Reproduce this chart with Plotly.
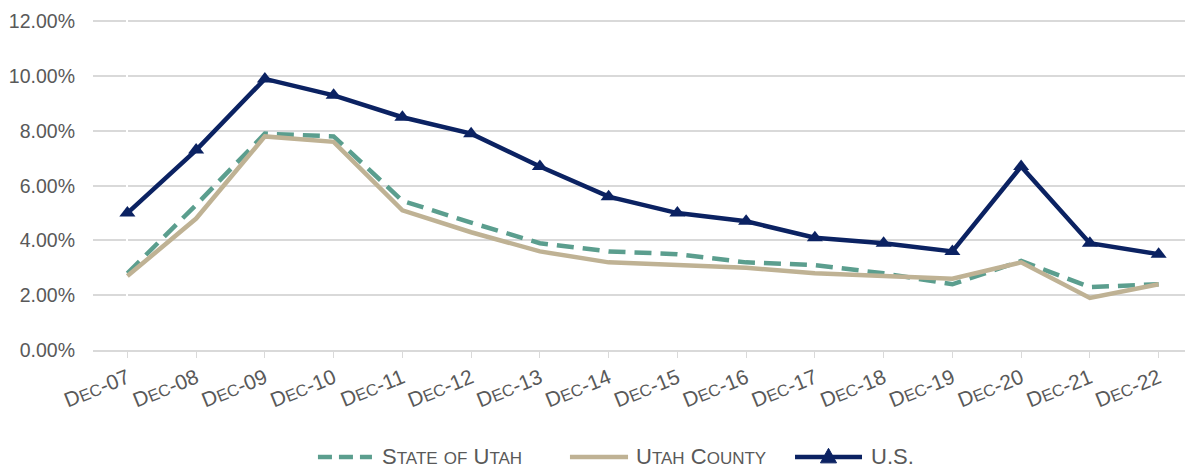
import plotly.graph_objects as go

categories = ["Dec-07", "Dec-08", "Dec-09", "Dec-10", "Dec-11", "Dec-12", "Dec-13", "Dec-14",
              "Dec-15", "Dec-16", "Dec-17", "Dec-18", "Dec-19", "Dec-20", "Dec-21", "Dec-22"]
state_utah = [2.8, 5.3, 7.9, 7.8, 5.45, 4.65, 3.9, 3.6, 3.5, 3.2, 3.1, 2.8, 2.4, 3.25, 2.3, 2.4]
utah_county = [2.7, 4.8, 7.8, 7.6, 5.1, 4.3, 3.6, 3.2, 3.1, 3.0, 2.8, 2.7, 2.6, 3.2, 1.9, 2.4]
us = [5.0, 7.3, 9.9, 9.3, 8.5, 7.9, 6.7, 5.6, 5.0, 4.7, 4.1, 3.9, 3.6, 6.7, 3.9, 3.5]
y_ticks = [0, 2, 4, 6, 8, 10, 12]
series_names = ["State of Utah", "Utah County", "U.S."]

def sc(text, small):
    # emulate small caps
    out = ""
    for ch in text:
        if ch.islower():
            out += f"<span style='font-size:{small}px'>{ch.upper()}</span>"
        else:
            out += ch
    return out

x_labels = [sc(c, 16.5) for c in categories]
x = list(range(len(categories)))

FONT = "Liberation Sans Narrow, Arial Narrow, Liberation Sans, sans-serif"
GRAY = "#595959"
C_STATE, C_COUNTY, C_US = "#5b9e8e", "#bfb294", "#0b2262"
STATE_DASH = "14px,7px"

fig = go.Figure()
fig.add_trace(go.Scatter(x=x, y=state_utah, mode="lines", name=series_names[0],
                         line=dict(color=C_STATE, width=4.5, dash="17px,9px")))
fig.add_trace(go.Scatter(x=x, y=utah_county, mode="lines", name=series_names[1],
                         line=dict(color=C_COUNTY, width=4.5)))
fig.add_trace(go.Scatter(x=x, y=us, mode="lines+markers", name=series_names[2],
                         line=dict(color=C_US, width=4.5),
                         marker=dict(symbol="triangle-up", size=14, color=C_US)))

# custom legend (paper coordinates below the plot)
LY = -0.324
legend_items = [
    (0.2045, 0.2536, 0.2610, C_STATE, STATE_DASH),
    (0.4336, 0.4864, 0.4920, C_COUNTY, "solid"),
    (0.6382, 0.6991, 0.7050, C_US, "solid"),
]
for (x0, x1, tx, col, dash), name in zip(legend_items, series_names):
    fig.add_shape(type="line", xref="paper", yref="paper", x0=x0, x1=x1, y0=LY, y1=LY,
                  line=dict(color=col, width=4.5, dash=dash))
    fig.add_annotation(xref="paper", yref="paper", x=tx, y=LY, xanchor="left", yanchor="middle",
                       text=sc(name, 17), showarrow=False,
                       font=dict(size=22, color=GRAY, family=FONT))
# triangle marker in the U.S. legend entry
tx_c = (legend_items[2][0] + legend_items[2][1]) / 2
fig.add_shape(type="path", xref="paper", yref="paper",
              path=f"M {tx_c-0.0073},{LY-0.018} L {tx_c+0.0073},{LY-0.018} L {tx_c},{LY+0.026} Z",
              fillcolor=C_US, line=dict(color=C_US, width=1))

# page body has an 8px margin; size the figure so it fits the 1193x470 window
fig.update_layout(
    width=1185, height=462,
    margin=dict(l=85, r=0, t=12, b=120, autoexpand=False),
    plot_bgcolor="white", paper_bgcolor="white",
    font=dict(family=FONT, color=GRAY, size=21),
    showlegend=False,
    xaxis=dict(
        tickmode="array", tickvals=x, ticktext=x_labels,
        range=[-0.5, 15.5], tickangle=-22, automargin=False,
        showline=True, linecolor="#d9d9d9", linewidth=1.5,
        ticks="outside", tickson="boundaries", ticklen=6, tickcolor="#d9d9d9",
        showgrid=False, tickfont=dict(size=21, color=GRAY, family=FONT),
    ),
    yaxis=dict(
        range=[0, 12.05], tickvals=y_ticks, automargin=False,
        ticktext=[f"{v:.2f}%" for v in y_ticks],
        showgrid=True, gridcolor="#d9d9d9", gridwidth=1.5,
        zeroline=False, showline=False,
        tickfont=dict(size=19.5, color=GRAY, family=FONT), ticklabelstandoff=17,
    ),
)

fig.write_html("out.html")
